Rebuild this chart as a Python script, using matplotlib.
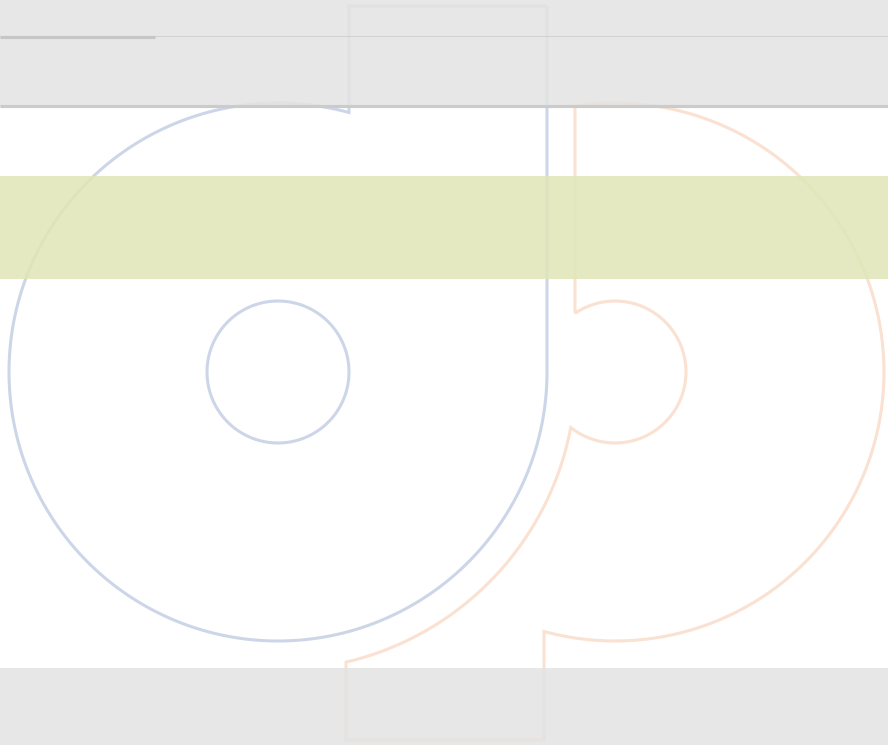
import numpy as np
import matplotlib.pyplot as plt
from matplotlib.path import Path
from matplotlib.patches import PathPatch

# ---------- DATA ----------
# canvas in pixel units (y grows downward)
width, height = 888, 745

# horizontal bands: (top, bottom, colour) - drawn at alpha 0.85
band_tops = [0, 176, 668]
band_bottoms = [107, 279, 745]
band_colors = ["#e3e3e3", "#e0e6b7", "#e3e3e3"]

# rules in the header
rule_y = [35.5, 37, 106]
rule_x0 = [0, 0, 0]
rule_x1 = [888, 155, 888]
rule_lw = [1.0, 3.0, 3.0]
rule_colors = ["#d2d2d2", "#c6c6c6", "#cbcbcb"]

# blue mark: big ring with a stem going up
blue_center = (278, 372)
blue_outer_r = 269
blue_inner_r = 71
blue_stem_x = [349, 547]
blue_stem_top = 6

# orange mark: ring opened to the left, stem going down
orange_center = (615, 372)
orange_outer_r = 269
orange_inner_r = 71
orange_gap_r = 298          # arc around the blue ring
orange_left_x = 575
orange_stem_x = [346, 544]
orange_stem_bottom = 740

blue_color = "#cdd6e8"
orange_color = "#fae1d1"


def arc(center, r, a0, a1, n=200):
    t = np.radians(np.linspace(a0, a1, n))
    return np.column_stack([center[0] + r * np.cos(t), center[1] + r * np.sin(t)])


def ang(center, x, y):
    return np.degrees(np.arctan2(y - center[1], x - center[0]))


# ---------- BLUE SHAPE ----------
cx, cy = blue_center
y_join = cy - np.sqrt(blue_outer_r**2 - (blue_stem_x[0] - cx) ** 2)
a_start = ang(blue_center, blue_stem_x[0], y_join)
blue_pts = np.vstack([
    [[blue_stem_x[1], blue_stem_top], [blue_stem_x[0], blue_stem_top]],
    arc(blue_center, blue_outer_r, a_start, -360),
    [[blue_stem_x[1], blue_stem_top]],
])
blue_hole = arc(blue_center, blue_inner_r, 0, 360)

# ---------- ORANGE SHAPE ----------
ox, oy = orange_center
y_top = oy - np.sqrt(orange_outer_r**2 - (orange_left_x - ox) ** 2)
y_stem = oy + np.sqrt(orange_outer_r**2 - (orange_stem_x[1] - ox) ** 2)
y_gap = cy + np.sqrt(orange_gap_r**2 - (orange_stem_x[0] - cx) ** 2)
# where the gap arc meets the inner circle
d = ox - cx
a = (d**2 + orange_gap_r**2 - orange_inner_r**2) / (2 * d)
h = np.sqrt(orange_gap_r**2 - a**2)
ix, iy = cx + a, cy + h
y_left = oy - np.sqrt(orange_inner_r**2 - (orange_left_x - ox) ** 2)

orange_pts = np.vstack([
    [[orange_left_x, y_left], [orange_left_x, y_top]],
    arc(orange_center, orange_outer_r, ang(orange_center, orange_left_x, y_top),
        ang(orange_center, orange_stem_x[1], y_stem)),
    [[orange_stem_x[1], orange_stem_bottom], [orange_stem_x[0], orange_stem_bottom]],
    arc(blue_center, orange_gap_r, ang(blue_center, orange_stem_x[0], y_gap),
        ang(blue_center, ix, iy)),
    arc(orange_center, orange_inner_r, ang(orange_center, ix, iy),
        ang(orange_center, orange_left_x, y_left)),
    [[orange_left_x, y_left]],
])

# ---------- FIGURE ----------
fig = plt.figure(figsize=(width / 100, height / 100), dpi=100)
ax = fig.add_axes([0, 0, 1, 1])
ax.set_xlim(0, width)
ax.set_ylim(height, 0)
ax.axis("off")

for pts in [blue_pts, blue_hole]:
    ax.add_patch(PathPatch(Path(pts), facecolor="none", edgecolor=blue_color,
                           linewidth=2.2, zorder=1))
ax.add_patch(PathPatch(Path(orange_pts), facecolor="none", edgecolor=orange_color,
                       linewidth=2.2, zorder=1))

for top, bottom, col in zip(band_tops, band_bottoms, band_colors):
    ax.axhspan(top, bottom, facecolor=col, edgecolor="none", alpha=0.85, zorder=2)

for y, x0, x1, lw, col in zip(rule_y, rule_x0, rule_x1, rule_lw, rule_colors):
    ax.plot([x0, x1], [y, y], color=col, linewidth=lw * 0.75, zorder=3,
            solid_capstyle="butt")

plt.savefig("out.png", dpi=100)
plt.close()
